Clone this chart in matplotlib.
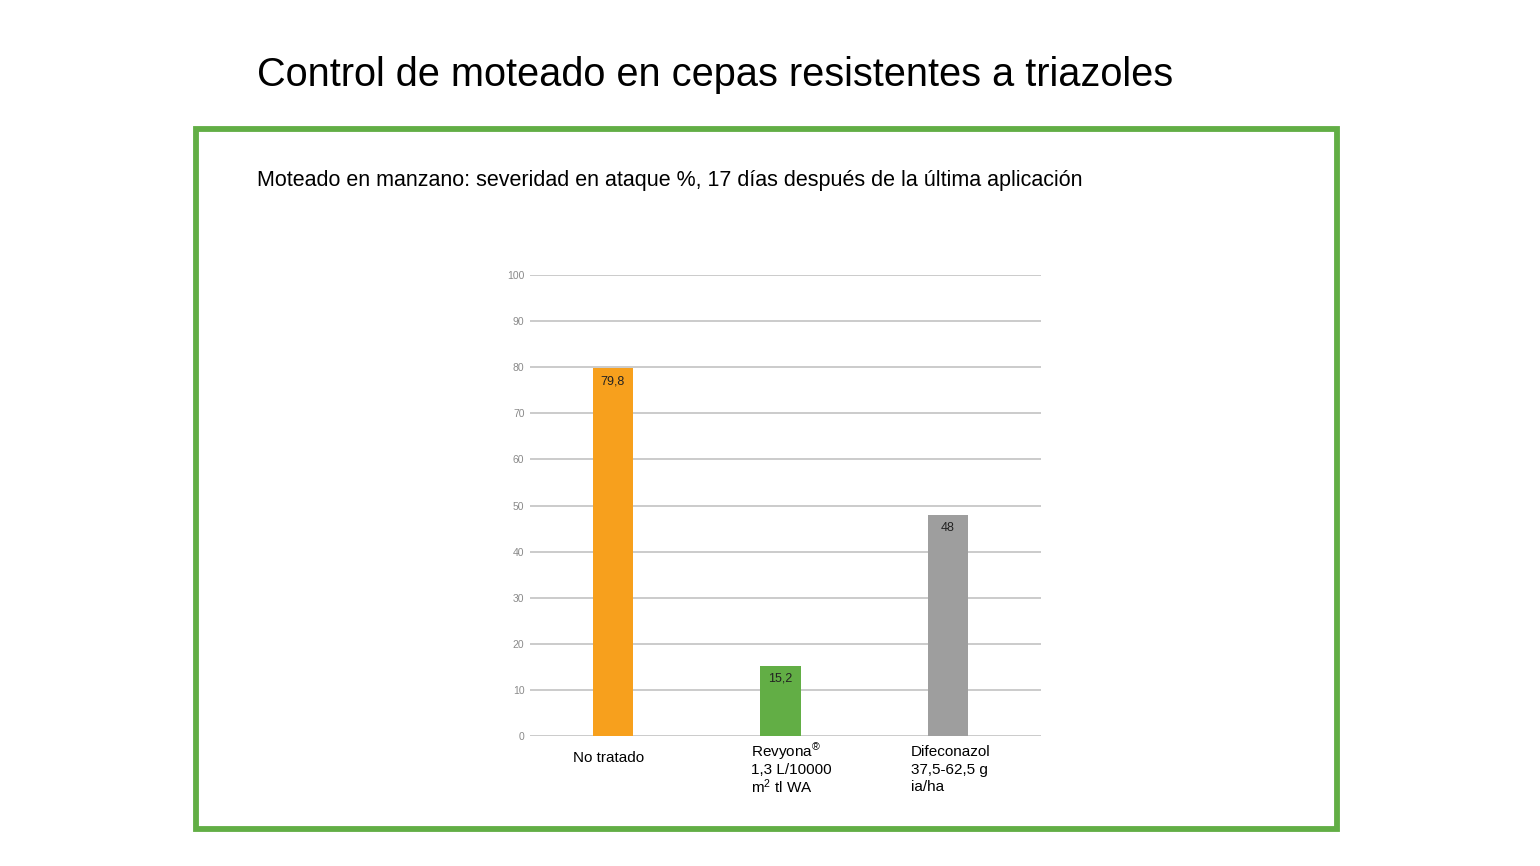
import matplotlib
matplotlib.use("Agg")
import matplotlib.pyplot as plt
from matplotlib.patches import Rectangle

plt.rcParams['font.family'] = ['Liberation Sans', 'DejaVu Sans']
plt.rcParams['mathtext.fontset'] = 'custom'
plt.rcParams['mathtext.rm'] = 'Liberation Sans'
plt.rcParams['mathtext.it'] = 'Liberation Sans:italic'
plt.rcParams['mathtext.bf'] = 'Liberation Sans:bold'

title = "Control de moteado en cepas resistentes a triazoles"
subtitle = "Moteado en manzano: severidad en ataque %, 17 días después de la última aplicación"
categories = [["No tratado"],
              ["Revyona$^{\\circledR}$", "1,3 L/10000", "m$^{2}$ tl WA"],
              ["Difeconazol", "37,5-62,5 g", "ia/ha"]]
values = [79.8, 15.2, 48]
colors = ["#F7A01D", "#62AE45", "#9E9E9E"]
yticks = [0, 10, 20, 30, 40, 50, 60, 70, 80, 90, 100]

fig = plt.figure(figsize=(15.4, 8.66), dpi=100)
fig.patch.set_facecolor("white")

# green frame
fig.patches.append(Rectangle((196/1540, 1-829/866), (1337-196)/1540, (829-129)/866,
                             transform=fig.transFigure, fill=False,
                             edgecolor="#62AE45", linewidth=4.2))

fig.text(257/1540, 1-86/866, title, fontsize=28.6, color="black", va="baseline", ha="left")
fig.text(257/1540, 1-186/866, subtitle, fontsize=15.5, color="black", va="baseline", ha="left")

ax = fig.add_axes([530/1540, 1-736/866, (1041-530)/1540, (736-275)/866])
x = list(range(len(categories)))
ax.bar(x, values, width=0.24, color=colors, zorder=3)
ax.set_xlim(-0.495, 2.555)
ax.set_ylim(0, 100)
ax.set_yticks(yticks)
ax.set_yticklabels([str(t) for t in yticks], fontsize=7.5, color="#8a8a8a")
ax.tick_params(axis='y', length=0, pad=4)
ax.set_xticks([])
for s in ax.spines.values():
    s.set_visible(False)
ax.grid(axis='y', color="#bdbdbd", linewidth=1.1, zorder=0)

for i, v in enumerate(values):
    lab = f"{v:g}".replace('.', ',')
    ax.annotate(lab, xy=(i, v), xytext=(0, -13), textcoords="offset pixels",
                ha="center", va="center", fontsize=9, color="#222222", zorder=4)

offsets = [-40, -29, -37]
line_y = [[-22], [-16, -34, -51], [-16, -34, -51]]
for i, (lines, dx, ys) in enumerate(zip(categories, offsets, line_y)):
    for line, dy in zip(lines, ys):
        ax.annotate(line, xy=(i, 0), xytext=(dx, dy),
                    textcoords="offset pixels", ha="left", va="center", fontsize=11,
                    color="black", annotation_clip=False)

fig.savefig("out.png", dpi=100, facecolor="white")
